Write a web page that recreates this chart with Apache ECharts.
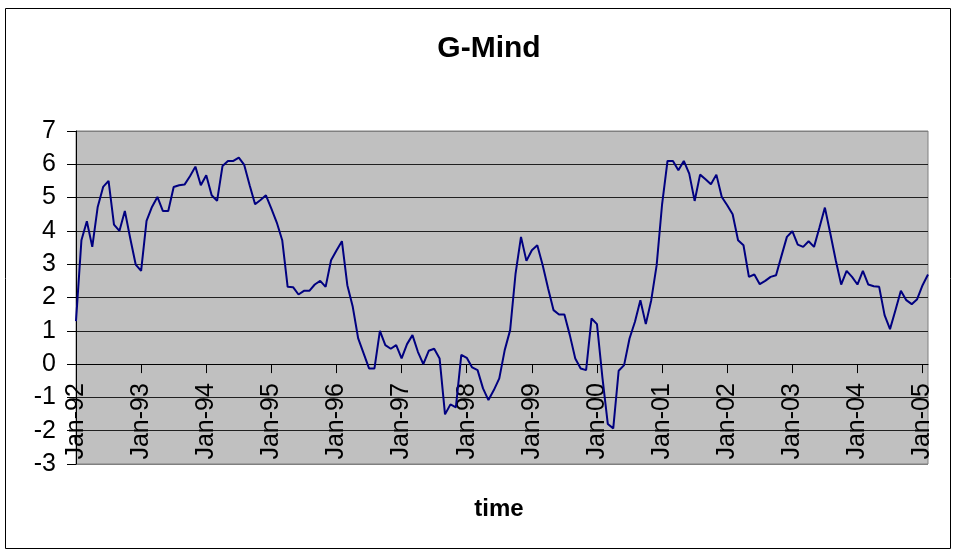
<!DOCTYPE html>
<html>
<head>
<meta charset="utf-8">
<script src="https://cdn.jsdelivr.net/npm/echarts@6/dist/echarts.min.js"></script>
<style>
html,body{margin:0;padding:0;background:#fff;}
#chart{width:956px;height:552px;}
</style>
</head>
<body>
<div id="chart"></div>
<script>
// ---- data ----
const monthNames = ['Jan','Feb','Mar','Apr','May','Jun','Jul','Aug','Sep','Oct','Nov','Dec'];
const yearLabels = ['92','93','94','95','96','97','98','99','00','01','02','03','04','05'];
const yTicks = [-3,-2,-1,0,1,2,3,4,5,6,7];

const v1992 = [1.29, 3.72, 4.29, 3.52, 4.72, 5.32, 5.5, 4.19, 4.0, 4.6, 3.77, 2.99];
const v1993 = [2.8, 4.3, 4.72, 5.02, 4.6, 4.6, 5.32, 5.37, 5.39, 5.64, 5.93, 5.37];
const v1994 = [5.67, 5.07, 4.9, 5.95, 6.1, 6.1, 6.2, 5.98, 5.37, 4.8, 4.93, 5.07];
const v1995 = [4.67, 4.25, 3.72, 2.32, 2.31, 2.09, 2.2, 2.2, 2.39, 2.5, 2.32, 3.12];
const v1996 = [3.41, 3.69, 2.37, 1.72, 0.77, 0.32, -0.13, -0.13, 1.0, 0.57, 0.46, 0.57];
const v1997 = [0.17, 0.6, 0.87, 0.37, 0.0, 0.4, 0.46, 0.17, -1.51, -1.21, -1.3, 0.28];
const v1998 = [0.19, -0.1, -0.18, -0.73, -1.08, -0.78, -0.43, 0.42, 1.02, 2.72, 3.82, 3.1];
const v1999 = [3.42, 3.57, 2.97, 2.27, 1.62, 1.49, 1.49, 0.87, 0.17, -0.13, -0.18, 1.37];
const v2000 = [1.2, -0.4, -1.8, -1.93, -0.2, -0.03, 0.77, 1.27, 1.92, 1.2, 1.92, 2.97];
const v2001 = [4.8, 6.1, 6.1, 5.82, 6.1, 5.72, 4.9, 5.69, 5.55, 5.4, 5.69, 5.02];
const v2002 = [4.77, 4.5, 3.72, 3.57, 2.62, 2.69, 2.4, 2.5, 2.62, 2.67, 3.25, 3.82];
const v2003 = [3.99, 3.59, 3.52, 3.69, 3.52, 4.1, 4.7, 3.92, 3.12, 2.39, 2.8, 2.62];
const v2004 = [2.39, 2.8, 2.39, 2.34, 2.32, 1.47, 1.05, 1.62, 2.2, 1.92, 1.8, 1.95];
const v2005 = [2.37, 2.69];

const values = [].concat(v1992, v1993, v1994, v1995, v1996, v1997, v1998,
                         v1999, v2000, v2001, v2002, v2003, v2004, v2005);

const categories = [];
for (let i = 0; i < values.length; i++) {
  categories.push(monthNames[i % 12] + '-' + yearLabels[Math.floor(i / 12)]);
}

// ---- chart ----
const FONT = '"Liberation Sans", Arial, sans-serif';
const isJan = (idx) => idx % 12 === 0;
const splitColors = yTicks.map((t, i) => (i === 0 || i === yTicks.length - 1) ? '#808080' : '#202020');

const GRID_TOP = 131, GRID_BOTTOM_Y = 464;
const yMin = yTicks[0], yMax = yTicks[yTicks.length - 1];
// distance (px) from plot bottom up to the zero line, so the category axis sits at 0
const zeroOffset = (0 - yMin) / (yMax - yMin) * (GRID_BOTTOM_Y - GRID_TOP);

const chart = echarts.init(document.getElementById('chart'), null, {renderer: 'canvas'});
chart.setOption({
  animation: false,
  backgroundColor: '#ffffff',
  grid: {
    left: 76, right: 28, top: GRID_TOP, bottom: 552 - GRID_BOTTOM_Y,
    outerBoundsMode: 'none', containLabel: false,
    show: true, backgroundColor: '#C0C0C0', borderColor: '#808080', borderWidth: 1
  },
  xAxis: {
    type: 'category',
    data: categories,
    boundaryGap: false,
    position: 'bottom',
    offset: -zeroOffset,
    axisLine: {show: true, onZero: false, lineStyle: {color: '#000', width: 1}},
    axisTick: {show: true, interval: isJan, length: 9, lineStyle: {color: '#000'}},
    axisLabel: {
      interval: isJan, rotate: 90, margin: 19, fontSize: 25,
      color: '#000', fontFamily: FONT, hideOverlap: false
    },
    splitLine: {show: false}
  },
  yAxis: {
    type: 'value',
    min: yMin, max: yMax, interval: 1,
    axisLine: {show: true, lineStyle: {color: '#000', width: 1}},
    axisTick: {show: true, length: 9, lineStyle: {color: '#000'}},
    axisLabel: {margin: 20, fontSize: 25, color: '#000', fontFamily: FONT},
    splitLine: {show: true, lineStyle: {color: splitColors, width: 1}}
  },
  series: [{
    type: 'line',
    data: values,
    showSymbol: false,
    symbol: 'none',
    lineStyle: {color: '#000080', width: 2},
    z: 5
  }],
  graphic: [
    {type: 'rect', shape: {x: 5.5, y: 8.5, width: 945, height: 540},
     style: {fill: 'none', stroke: '#000', lineWidth: 1}, silent: true, z: -10},
    {type: 'text', x: 489, y: 49,
     style: {text: 'G-Mind', fontSize: 30, fontWeight: 'bold', fontFamily: FONT,
             fill: '#000', align: 'center', verticalAlign: 'middle'}},
    {type: 'text', x: 499, y: 509,
     style: {text: 'time', fontSize: 24, fontWeight: 'bold', fontFamily: FONT,
             fill: '#000', align: 'center', verticalAlign: 'middle'}}
  ]
});
</script>
</body>
</html>
